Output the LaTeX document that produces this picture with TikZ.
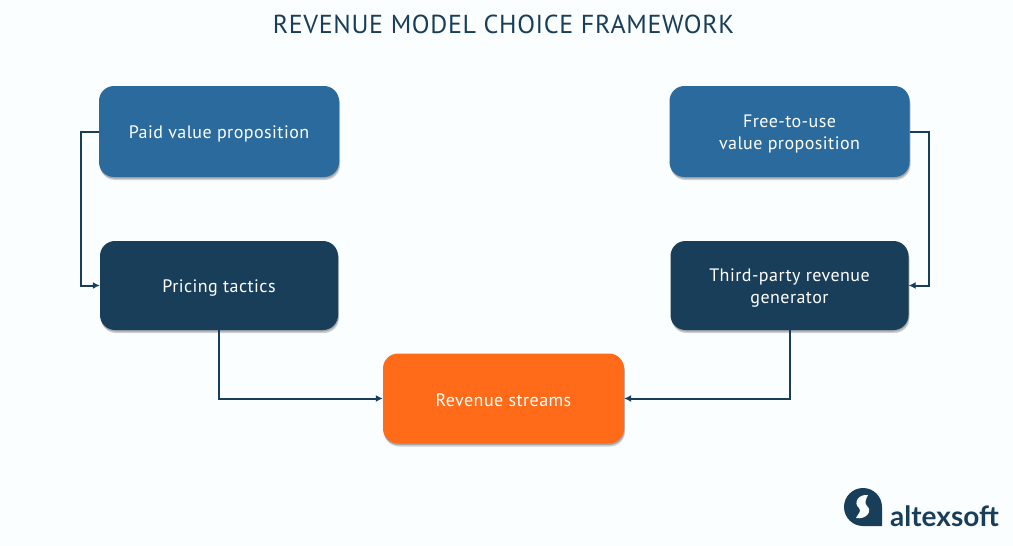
\documentclass[tikz,border=0pt]{standalone}
\usepackage{fontspec}
\setmainfont{PT Sans}[LetterSpace=2.5]
\newfontfamily\logofont{Lato}
\usetikzlibrary{shadows,arrows.meta}
\definecolor{paper}{HTML}{FBFEFF}
\definecolor{midblue}{HTML}{2A6A9C}
\definecolor{deepblue}{HTML}{193E5A}
\definecolor{flame}{HTML}{FF6B18}
\newcommand{\toprow}{\rule{0pt}{17pt}}
\begin{document}
\begin{tikzpicture}[x=1pt,y=-1pt,
	box/.style={rounded corners=15pt,inner sep=0pt,align=center,text=white,font=\fontsize{18}{22}\selectfont,
		general shadow={shadow xshift=1pt,shadow yshift=-3pt,fill=black,opacity=.18},
		general shadow={shadow xshift=.5pt,shadow yshift=-1.5pt,fill=black,opacity=.2}},
	upper/.style={box,fill=midblue,minimum width=240pt,minimum height=91pt},
	lower/.style={box,fill=deepblue,minimum width=238pt,minimum height=89pt},
	link/.style={draw=deepblue,line width=2pt,-{Latex[length=7pt,width=7pt]}}]
	\fill[paper] (0,0) rectangle (1013,546);
	\useasboundingbox (0,0) rectangle (1013,546);
	\node (title) at (503.5,24) [text=deepblue,font=\fontsize{26}{28}\selectfont] {REVENUE MODEL CHOICE FRAMEWORK};
	\node (paid) at (219,131.5) [upper] {\toprow Paid value proposition};
	\node (free) at (789.5,131.5) [upper] {\toprow Free-to-use\\value proposition};
	\node (pricing) at (219,285.5) [lower] {\toprow Pricing tactics};
	\node (third) at (789.5,285.5) [lower] {\toprow Third-party revenue\\generator};
	\node (streams) at (503.5,398.5) [box,fill=flame,minimum width=241pt,minimum height=90pt] {\toprow Revenue streams};
	\coordinate (leftturn) at (81,131.5);
	\coordinate (rightturn) at (929,131.5);
	\draw[link] (paid.west) -- (leftturn) |- (pricing.west);
	\draw[link] (free.east) -- (rightturn) |- (third.east);
	\draw[link] (pricing.south) |- (streams.west);
	\draw[link] (third.south) |- (streams.east);
	% logo
	\fill[deepblue] (882,507) arc[start angle=0,end angle=-270,radius=19] -- (882,526) -- cycle;
	\fill[paper] (868,495) .. controls (858,494) and (853,503) .. (859,508)
		.. controls (862,511) and (858,514) .. (856,518)
		.. controls (866,520) and (873,511) .. (867,506)
		.. controls (864,503) and (866,499) .. (868,495) -- cycle;
	\node (logo) at (944.5,516) [text=deepblue,inner sep=0pt,font=\logofont\bfseries\fontsize{28}{30}\selectfont] {altexsoft};
\end{tikzpicture}
\end{document}
